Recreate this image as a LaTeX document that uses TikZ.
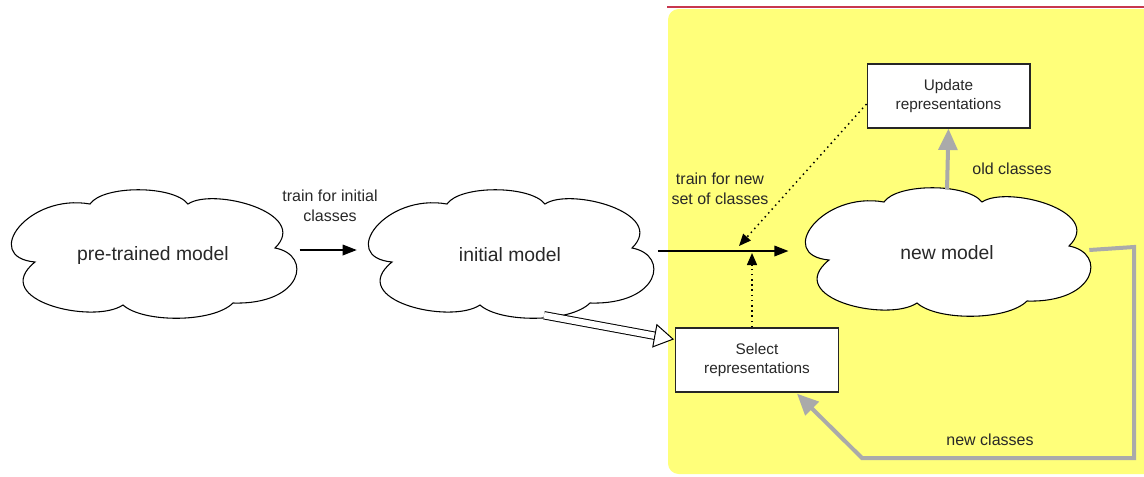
\documentclass[tikz,border=0pt]{standalone}
\usepackage{fontspec}
\setmainfont{Liberation Sans}
\usetikzlibrary{arrows.meta,calc}
\definecolor{pad}{RGB}{255,255,122}
\definecolor{redline}{RGB}{200,55,78}
\definecolor{flowgray}{RGB}{170,170,170}
\definecolor{inkgray}{RGB}{40,40,40}
% outline of a cloud, relative to its centre, in pixel units
\newcommand\cloudoutline{(-118,7)
 .. controls (-172,2) and (-125,-62) .. (-63,-51)
 .. controls (-50,-70) and (20,-70) .. (35,-51)
 .. controls (60,-68) and (158,-42) .. (122,-7)
 .. controls (160,0) and (150,50) .. (80,48)
 .. controls (60,68) and (-10,68) .. (-30,50)
 .. controls (-60,70) and (-165,45) .. cycle}
\newcommand\cloudnode[3]{%
 \draw[cloudline, shift={#2}] \cloudoutline;
 \node[cloudbox] (#1) at #2 {#3};}
\begin{document}
\begin{tikzpicture}[x=0.75pt,y=-0.75pt,
 cloudline/.style={draw=black, line width=0.8pt, fill=white},
 cloudbox/.style={rectangle, minimum width=217.5pt, minimum height=94.5pt, font=\fontsize{14.5}{17}\selectfont, text=inkgray, inner sep=0pt},
 boxnode/.style={draw=black!85, line width=1pt, fill=white, minimum width=122pt, minimum height=48pt, align=center, font=\fontsize{11.5}{14.5}\selectfont, text=inkgray},
 lbl/.style={align=center, font=\fontsize{12}{15}\selectfont, text=inkgray, inner sep=0pt},
 blackarrow/.style={-{Triangle[length=10.5pt,width=8pt]}, line width=0.9pt},
 dotarrow/.style={line width=1.1pt, dash pattern=on 1.1pt off 2.8pt, -{Triangle[length=9pt,width=7.5pt]}},
 grayarrow/.style={draw=flowgray, line width=3pt, -{Triangle[length=16pt,width=14pt]}},
 hollowarrow/.style={double=white, double distance=4.8pt, line width=0.75pt, -{Triangle[open, length=15pt, width=18pt, fill=white]}},
]
\useasboundingbox (0,0) rectangle (1144,476);
% yellow area
\fill[pad, rounded corners=8pt] (668,9) rectangle (1160,474);
\draw[redline, line width=2.2pt] (667,7) -- (1144,7);

% nodes
\cloudnode{pre}{(153,255)}{pre-trained model}
\cloudnode{init}{(510,255)}{initial model}
\cloudnode{new}{(947,253)}{new model}
\node[boxnode] (upd) at (948.5,96) {Update\\representations};
\node[boxnode] (sel) at (757,360) {Select\\representations};

% labels
\node[lbl] (l1) at (330,206) {train for initial\\classes};
\node[lbl] (l2) at (720,189) {train for new\\set of classes};
\node[lbl] (l3) at (1012,169) {old classes};
\node[lbl] (l4) at (990,440) {new classes};

% coordinates
\coordinate (hit1) at (739,246);
\coordinate (hit2) at (752,253);
\coordinate (c1) at (1134,247);
\coordinate (c2) at (1134,458);
\coordinate (c3) at (862,458);

% connectors
\draw[blackarrow, shorten <=1pt, shorten >=6pt] ($(pre.east)+(0,-5)$) -- ($(init.west)+(0,-5)$);
\draw[blackarrow, shorten <=2pt, shorten >=10pt] ($(init.east)+(0,-4)$) -- ($(new.west)+(0,-2)$);
\draw[dotarrow] ($(upd.west)+(0,8)$) -- (hit1);
\draw[dotarrow] ($(sel.north)+(-5,0)$) -- (hit2);
\draw[grayarrow] (new.north) -- (upd.south);
\draw[grayarrow] ($(new.east)+(-3,-3)$) -- (c1) -- (c2) -- (c3) -- ($(sel.south)+(40,1)$);
\draw[hollowarrow] ($(init.south)+(34,-3)$) -- ($(sel.north west)+(-1,12)$);
\end{tikzpicture}
\end{document}
